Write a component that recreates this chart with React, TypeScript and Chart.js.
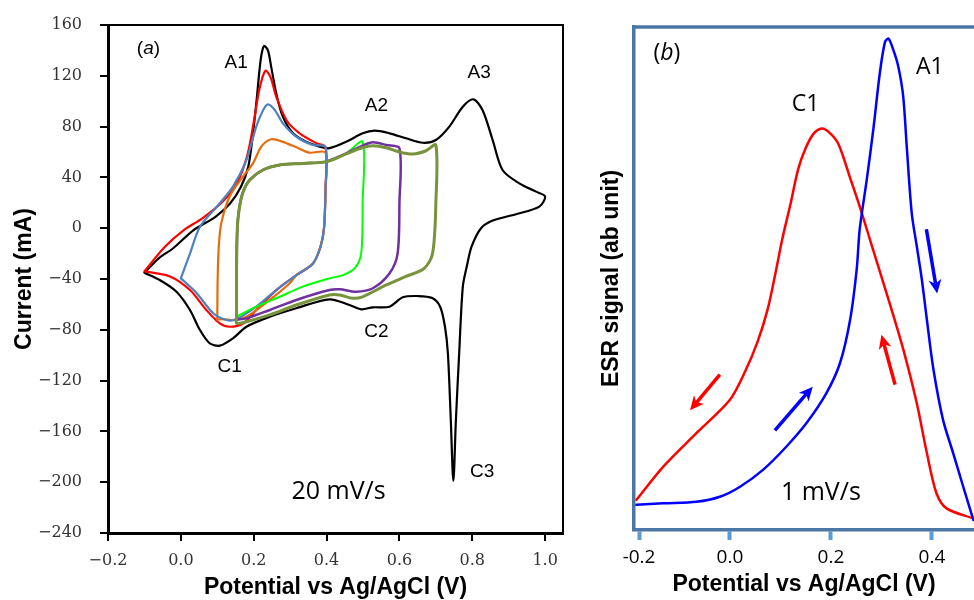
import React, { useEffect, useRef } from 'react';
import { Chart, registerables } from 'chart.js';

Chart.register(...registerables);

// ---------------- Panel (a): CVs at 20 mV/s ----------------
const aXTicks = [-0.2, 0.0, 0.2, 0.4, 0.6, 0.8, 1.0];
const aYTicks = [-240, -200, -160, -120, -80, -40, 0, 40, 80, 120, 160];

// -0.10 .. 1.00 V (black)
const blackV = [-0.100, -0.060, -0.021, 0.035, 0.095, 0.135, 0.165, 0.185, 0.198, 0.208, 0.219, 0.228, 0.239, 0.248, 0.262, 0.280, 0.308, 0.344, 0.381, 0.408, 0.454, 0.499, 0.532, 0.573, 0.618, 0.664, 0.700, 0.737, 0.774, 0.803, 0.828, 0.856, 0.883, 0.929, 0.975, 1.000, 0.984, 0.920, 0.856, 0.824, 0.798, 0.785, 0.774, 0.764, 0.755, 0.748, 0.741, 0.733, 0.725, 0.712, 0.690, 0.650, 0.609, 0.573, 0.527, 0.495, 0.463, 0.408, 0.317, 0.244, 0.180, 0.143, 0.107, 0.079, 0.052, 0.025, -0.012, -0.058, -0.100];
const blackI = [-35, -23.5, -15.8, -1.5, 9, 19.4, 32.7, 48.4, 74.7, 101, 132.4, 143.4, 140, 127, 106, 87.8, 74.7, 68, 64.2, 63, 68, 74.7, 76.8, 74.7, 70.8, 67.3, 69.4, 80, 95.7, 101.5, 93, 69.4, 45.8, 35.3, 28.8, 25, 17, 11, 6, 0, -14.5, -30, -46, -98.5, -151, -199, -151, -98.5, -77.6, -62, -55, -53.4, -54.4, -61.8, -62.3, -63.9, -60.5, -56, -63, -69.7, -77.6, -86.7, -92.5, -90.6, -80, -64.4, -50, -40.8, -35];

// -0.10 .. 0.40 V (red)
const redV = [-0.100, -0.045, 0.008, 0.060, 0.115, 0.155, 0.183, 0.201, 0.216, 0.232, 0.246, 0.262, 0.290, 0.326, 0.372, 0.397, 0.397, 0.393, 0.383, 0.362, 0.317, 0.262, 0.207, 0.171, 0.134, 0.107, 0.070, 0.025, -0.030, -0.100];
const redI = [-34, -15, -1.5, 8, 21, 36, 58, 85, 110, 124, 119, 103.5, 85, 74.7, 67, 64, 30, 0, -15, -28, -37, -48.7, -64.4, -75, -77.6, -75, -64.4, -48.7, -38, -34];

// 0.00 .. 0.40 V (blue)
const blueV = [0.000, 0.025, 0.052, 0.098, 0.143, 0.180, 0.207, 0.226, 0.239, 0.258, 0.280, 0.317, 0.362, 0.397, 0.397, 0.393, 0.383, 0.362, 0.317, 0.262, 0.207, 0.152, 0.125, 0.089, 0.043, 0.000];
const blueI = [-39.5, -20, 1, 16.7, 32.7, 53.7, 80, 93, 97.5, 93, 82.6, 72, 65.5, 64, 30, 0, -15, -28, -37, -48.7, -61.8, -71.7, -72.3, -67, -51, -39.5];

// 0.10 .. 0.40 V (orange)
const orangeV = [0.100, 0.101, 0.104, 0.111, 0.134, 0.171, 0.198, 0.221, 0.248, 0.280, 0.317, 0.353, 0.397, 0.397, 0.393, 0.383, 0.362, 0.317, 0.299, 0.244, 0.180, 0.143, 0.116, 0.100];
const orangeI = [-72, -40, -15, 4, 25, 40.8, 51, 64.2, 70, 68, 63.7, 59.5, 59.5, 30, 0, -15, -28, -37, -43.4, -56.5, -69.7, -72.3, -71.7, -72];

// 0.15 .. 0.50 V (green)
const greenV = [0.153, 0.153, 0.155, 0.160, 0.170, 0.189, 0.226, 0.271, 0.335, 0.399, 0.454, 0.499, 0.499, 0.495, 0.477, 0.445, 0.408, 0.335, 0.271, 0.207, 0.162, 0.153];
const greenI = [-70, -30, 0, 15, 28, 38, 46, 49.8, 51, 52.4, 59, 68, 20, -20, -31.6, -36.9, -39.5, -46, -54, -61.8, -68.3, -70];

// 0.15 .. 0.60 V (purple)
const purpleV = [0.153, 0.153, 0.155, 0.160, 0.170, 0.189, 0.226, 0.271, 0.335, 0.399, 0.454, 0.499, 0.527, 0.564, 0.600, 0.600, 0.595, 0.573, 0.527, 0.481, 0.436, 0.408, 0.317, 0.244, 0.180, 0.153];
const purpleI = [-72, -30, 0, 15, 28, 38, 46, 49.8, 51, 52.4, 59, 65, 67.6, 65.5, 62.9, 20, -20, -35.5, -47.3, -50, -48.1, -48.7, -56.5, -64.4, -71, -72];

// 0.15 .. 0.70 V (olive)
const oliveV = [0.153, 0.153, 0.155, 0.160, 0.170, 0.189, 0.226, 0.271, 0.335, 0.399, 0.454, 0.499, 0.527, 0.564, 0.600, 0.636, 0.673, 0.700, 0.700, 0.691, 0.668, 0.618, 0.564, 0.499, 0.472, 0.436, 0.408, 0.317, 0.244, 0.180, 0.153, 0.153];
const oliveI = [-70, -30, 0, 15, 28, 38, 46, 49.8, 51, 52.4, 58.5, 63.5, 65, 63.4, 60, 58.4, 61, 65.5, 20, -20, -31.6, -38, -44.7, -54, -55.2, -52.6, -52.6, -60.5, -68.3, -73.6, -74.9, -70];

// ---------------- Panel (b): ESR signal at 1 mV/s ----------------
const bXTicks = [-0.18, 0.0, 0.2, 0.4];
const bXTickLabels = ['-0.2', '0.0', '0.2', '0.4'];

const bBlueV = [-0.185, -0.132, -0.066, -0.020, 0.020, 0.066, 0.112, 0.152, 0.191, 0.218, 0.238, 0.251, 0.257, 0.271, 0.284, 0.297, 0.307, 0.314, 0.323, 0.333, 0.343, 0.350, 0.360, 0.370, 0.380, 0.390, 0.403, 0.422, 0.442, 0.462, 0.482];
const bBlueS = [5, 5.3, 5.6, 6.6, 8.6, 12, 16.6, 21.3, 27.2, 33.2, 41.8, 51.8, 59.8, 69.7, 79.7, 91, 97, 97.7, 95.6, 92.3, 86.3, 76.4, 63, 56.4, 49.8, 41.8, 31.9, 21.9, 15.3, 8.6, 2];

const bRedV = [0.482, 0.429, 0.409, 0.390, 0.370, 0.343, 0.318, 0.298, 0.278, 0.258, 0.238, 0.215, 0.198, 0.182, 0.165, 0.149, 0.135, 0.119, 0.104, 0.090, 0.075, 0.055, 0.030, 0.000, -0.066, -0.132, -0.185];
const bRedS = [2.3, 4.3, 7.3, 15.3, 25.2, 36, 44.5, 51, 57.5, 64, 70, 76.7, 78.9, 79.8, 78.7, 75.7, 71.7, 64.4, 58, 51, 44, 37.5, 31.5, 25.9, 19.3, 12.6, 6];

// ---------------- styles / annotations ----------------
const SANS = '"Liberation Sans", Arial, sans-serif';
const SERIF = '"DejaVu Serif", serif';
const CAL = '"Open Sans", "Liberation Sans", sans-serif';
const FRAME_BLUE = '#4a77a3';

type Label = { text: string; x: number; y: number; font: string; italic?: boolean };
type Arrow = { from: [number, number]; to: [number, number]; color: string };

const aLabels: Label[] = [
  { text: 'a', x: -0.089, y: 141.1, font: `19px ${SANS}`, italic: true },
  { text: 'A1', x: 0.152, y: 130.1, font: `19px ${SANS}` },
  { text: 'A2', x: 0.537, y: 96.2, font: `19px ${SANS}` },
  { text: 'A3', x: 0.819, y: 122.2, font: `19px ${SANS}` },
  { text: 'C1', x: 0.134, y: -109.3, font: `19px ${SANS}` },
  { text: 'C2', x: 0.537, y: -81.7, font: `19px ${SANS}` },
  { text: 'C3', x: 0.827, y: -192, font: `19px ${SANS}` },
  { text: '20 mV/s', x: 0.433, y: -207.7, font: `25px ${CAL}` },
];

const bLabels: Label[] = [
  { text: 'b', x: -0.125, y: 94.8, font: `23px ${CAL}`, italic: true },
  { text: 'C1', x: 0.150, y: 84.7, font: `23px ${CAL}` },
  { text: 'A1', x: 0.396, y: 92, font: `23px ${CAL}` },
  { text: '1 mV/s', x: 0.180, y: 7.4, font: `25px ${CAL}` },
];

const bArrows: Arrow[] = [
  { from: [-0.020, 30.9], to: [-0.079, 23.8], color: '#ff0000' },
  { from: [0.089, 19.8], to: [0.164, 28.5], color: '#0000ff' },
  { from: [0.327, 28.9], to: [0.300, 38.8], color: '#ff0000' },
  { from: [0.389, 59.8], to: [0.4105, 47.0], color: '#0000ff' },
];

const zip = (xs: number[], ys: number[]) => xs.map((x, i) => ({ x, y: ys[i] }));
const fmtMinus = (v: number, d: number) => {
  const s = Math.abs(v).toFixed(d);
  return v < 0 ? '\u2212' + s : s;
};

const ds = (label: string, xs: number[], ys: number[], color: string, width: number) => ({
  label,
  data: zip(xs, ys),
  borderColor: color,
  backgroundColor: color,
  borderWidth: width,
  pointRadius: 0,
  fill: false,
  tension: 0.3,
  borderJoinStyle: 'round' as const,
  borderCapStyle: 'round' as const,
});

const overlay = (labels: Label[], arrows: Arrow[], frameSides: string[], frameColor: string, frameWidth: number) => ({
  id: 'overlay',
  afterDatasetsDraw(chart: any) {
    const { ctx, chartArea: ca, scales } = chart;
    const sx = scales.x;
    const sy = scales.y;
    ctx.save();
    // frame sides not handled by the axes
    ctx.strokeStyle = frameColor;
    ctx.lineWidth = frameWidth;
    ctx.lineCap = 'square';
    ctx.beginPath();
    if (frameSides.includes('top')) {
      ctx.moveTo(ca.left, ca.top);
      ctx.lineTo(ca.right, ca.top);
    }
    if (frameSides.includes('right')) {
      ctx.moveTo(ca.right, ca.top);
      ctx.lineTo(ca.right, ca.bottom);
    }
    ctx.stroke();

    // text annotations
    ctx.fillStyle = '#000';
    ctx.textBaseline = 'middle';
    for (const l of labels) {
      const px = sx.getPixelForValue(l.x);
      const py = sy.getPixelForValue(l.y);
      if (l.italic) {
        const parts: [string, string][] = [['(', l.font], [l.text, 'italic ' + l.font], [')', l.font]];
        let total = 0;
        const widths = parts.map(([t, f]) => {
          ctx.font = f;
          const w = ctx.measureText(t).width;
          total += w;
          return w;
        });
        let cx = px - total / 2;
        ctx.textAlign = 'left';
        parts.forEach(([t, f], i) => {
          ctx.font = f;
          ctx.fillText(t, cx, py);
          cx += widths[i];
        });
      } else {
        ctx.font = l.font;
        ctx.textAlign = 'center';
        ctx.fillText(l.text, px, py);
      }
    }

    // arrows
    for (const a of arrows) {
      const x1 = sx.getPixelForValue(a.from[0]);
      const y1 = sy.getPixelForValue(a.from[1]);
      const x2 = sx.getPixelForValue(a.to[0]);
      const y2 = sy.getPixelForValue(a.to[1]);
      const ang = Math.atan2(y2 - y1, x2 - x1);
      const hl = 14;
      const hw = 6.5;
      const c = Math.cos(ang);
      const s = Math.sin(ang);
      const bx = x2 - hl * c;
      const by = y2 - hl * s;
      ctx.strokeStyle = a.color;
      ctx.fillStyle = a.color;
      ctx.lineWidth = 3.5;
      ctx.lineCap = 'butt';
      ctx.beginPath();
      ctx.moveTo(x1, y1);
      ctx.lineTo(bx + 4 * c, by + 4 * s);
      ctx.stroke();
      ctx.beginPath();
      ctx.moveTo(x2, y2);
      ctx.lineTo(bx + hw * s, by - hw * c);
      ctx.lineTo(bx + 4 * c, by + 4 * s);
      ctx.lineTo(bx - hw * s, by + hw * c);
      ctx.closePath();
      ctx.fill();
    }
    ctx.restore();
  },
});

export default function App() {
  const refA = useRef<HTMLCanvasElement | null>(null);
  const refB = useRef<HTMLCanvasElement | null>(null);

  useEffect(() => {
    if (!refA.current || !refB.current) return;

    const chartA = new Chart(refA.current, {
      type: 'line',
      data: {
        datasets: [
          ds('0.15 to 0.70 V', oliveV, oliveI, '#77933c', 3),
          ds('0.15 to 0.60 V', purpleV, purpleI, '#7030a0', 2.5),
          ds('0.15 to 0.50 V', greenV, greenI, '#00ff00', 2),
          ds('0.00 to 0.40 V', blueV, blueI, '#4f81bd', 2.2),
          ds('0.10 to 0.40 V', orangeV, orangeI, '#e46c0a', 2.2),
          ds('-0.10 to 0.40 V', redV, redI, '#ff0000', 2.2),
          ds('-0.10 to 1.00 V', blackV, blackI, '#000000', 2.2),
        ],
      },
      options: {
        animation: false,
        responsive: false,
        maintainAspectRatio: false,
        events: [],
        layout: { padding: { left: 0, top: 25, right: 37, bottom: 0 } },
        plugins: { legend: { display: false }, tooltip: { enabled: false } },
        scales: {
          x: {
            type: 'linear',
            min: -0.2,
            max: 1.049,
            afterBuildTicks: (ax: any) => {
              ax.ticks = aXTicks.map((v) => ({ value: v }));
            },
            afterFit: (s: any) => {
              s.height = 67;
              s.paddingLeft = 0;
              s.paddingRight = 0;
            },
            grid: { drawOnChartArea: false, color: '#000', lineWidth: 2, tickLength: 8 },
            border: { display: true, color: '#000', width: 3 },
            ticks: {
              font: { family: SERIF, size: 16 },
              color: '#333',
              padding: 10,
              maxRotation: 0,
              autoSkip: false,
              callback: (v: any) => fmtMinus(Number(v), 1),
            },
            title: {
              display: true,
              text: 'Potential vs Ag/AgCl (V)',
              color: '#000',
              font: { family: SANS, size: 23, weight: 'bold', lineHeight: 1 },
              padding: { top: 0, bottom: 0.5 },
            },
          },
          y: {
            type: 'linear',
            min: -240,
            max: 160,
            afterBuildTicks: (ax: any) => {
              ax.ticks = aYTicks.map((v) => ({ value: v }));
            },
            afterFit: (s: any) => {
              s.width = 108;
              s.paddingTop = 0;
              s.paddingBottom = 0;
            },
            grid: { drawOnChartArea: false, color: '#000', lineWidth: 2, tickLength: 8 },
            border: { display: true, color: '#000', width: 3 },
            ticks: {
              font: { family: SERIF, size: 16 },
              color: '#333',
              padding: 18,
              callback: (v: any) => fmtMinus(Number(v), 0),
            },
            title: {
              display: true,
              text: 'Current (mA)',
              color: '#000',
              font: { family: SANS, size: 23, weight: 'bold', lineHeight: 1.2 },
              padding: { top: 11, bottom: 0 },
            },
          },
        },
      } as any,
      plugins: [overlay(aLabels, [], ['top', 'right'], '#000', 2)],
    });

    const chartB = new Chart(refB.current, {
      type: 'line',
      data: {
        datasets: [
          ds('forward scan', bBlueV, bBlueS, '#0000ff', 2.5),
          ds('reverse scan', bRedV, bRedS, '#ff0000', 2.5),
        ],
      },
      options: {
        animation: false,
        responsive: false,
        maintainAspectRatio: false,
        events: [],
        layout: { padding: { left: 0, top: 27, right: 0, bottom: 0 } },
        plugins: { legend: { display: false }, tooltip: { enabled: false } },
        scales: {
          x: {
            type: 'linear',
            min: -0.19,
            max: 0.4833,
            afterBuildTicks: (ax: any) => {
              ax.ticks = bXTicks.map((v) => ({ value: v }));
            },
            afterFit: (s: any) => {
              s.height = 70;
              s.paddingLeft = 0;
              s.paddingRight = 0;
            },
            grid: { drawOnChartArea: false, color: '#5b9bd5', tickColor: '#5b9bd5', tickWidth: 4, tickLength: 10 },
            border: { display: true, color: FRAME_BLUE, width: 3.5 },
            ticks: {
              font: { family: CAL, size: 19 },
              color: '#000',
              padding: 6,
              maxRotation: 0,
              autoSkip: false,
              callback: (_v: any, i: number) => bXTickLabels[i],
            },
            title: {
              display: true,
              text: 'Potential vs Ag/AgCl (V)',
              color: '#000',
              font: { family: SANS, size: 23, weight: 'bold', lineHeight: 1 },
              padding: { top: 0, bottom: 3.5 },
            },
          },
          y: {
            type: 'linear',
            min: 0,
            max: 100,
            afterFit: (s: any) => {
              s.width = 34;
              s.paddingTop = 0;
              s.paddingBottom = 0;
            },
            grid: { display: false },
            ticks: { display: false },
            border: { display: true, color: FRAME_BLUE, width: 3.5 },
            title: {
              display: true,
              text: 'ESR signal (ab unit)',
              color: '#000',
              font: { family: SANS, size: 23, weight: 'bold', lineHeight: 1 },
              padding: 0,
            },
          },
        },
      } as any,
      plugins: [overlay(bLabels, bArrows, ['top'], FRAME_BLUE, 3.5)],
    });

    return () => {
      chartA.destroy();
      chartB.destroy();
    };
  }, []);

  return (
    <div style={{ position: 'absolute', left: 0, top: 0, width: 974, height: 600, background: '#fff', overflow: 'hidden' }}>
      <canvas ref={refA} width={600} height={600} style={{ position: 'absolute', left: 0, top: 0, width: 600, height: 600 }} />
      <canvas ref={refB} width={374} height={600} style={{ position: 'absolute', left: 600, top: 0, width: 374, height: 600 }} />
    </div>
  );
}
